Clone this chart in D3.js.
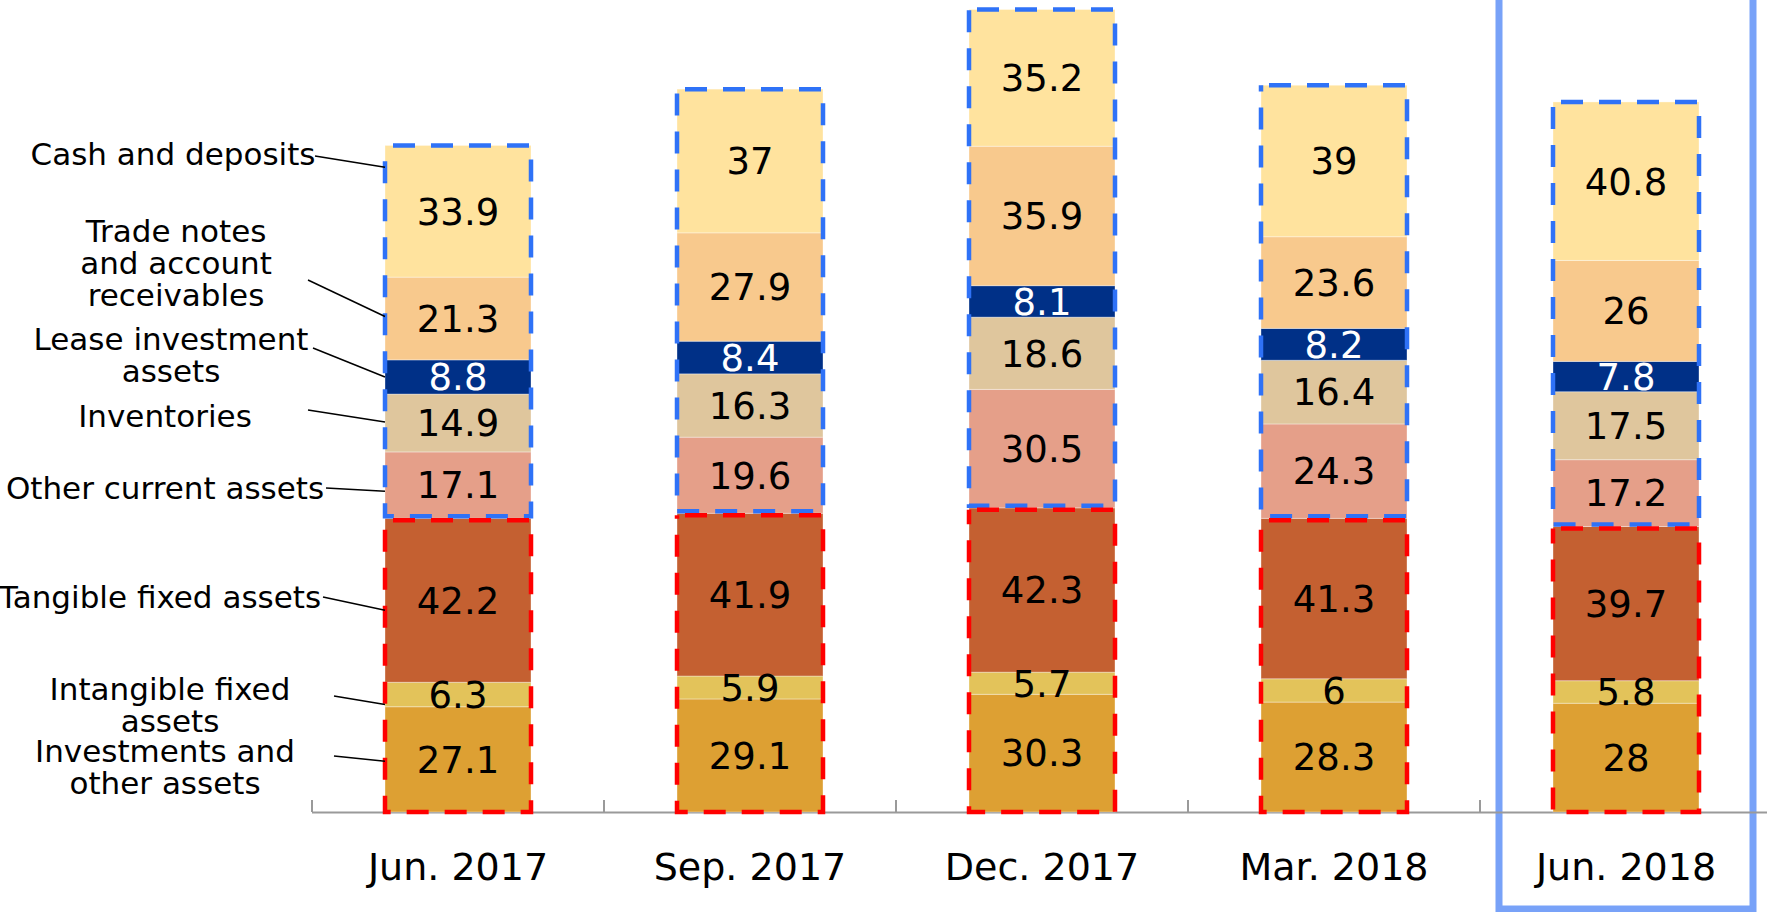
<!DOCTYPE html>
<html>
<head>
<meta charset="utf-8">
<script src="https://cdn.jsdelivr.net/npm/d3@7"></script>
<style>
  body { margin: 0; background: #fff; }
  svg { display: block; font-family: "DejaVu Sans", Verdana, sans-serif; }
</style>
</head>
<body>
<div class="canvas"></div>
<script>
// chart data
const categories = ['Jun. 2017', 'Sep. 2017', 'Dec. 2017', 'Mar. 2018', 'Jun. 2018'];
const cash = [33.9, 37, 35.2, 39, 40.8];
const tradeNotes = [21.3, 27.9, 35.9, 23.6, 26];
const lease = [8.8, 8.4, 8.1, 8.2, 7.8];
const inventories = [14.9, 16.3, 18.6, 16.4, 17.5];
const otherCurrent = [17.1, 19.6, 30.5, 24.3, 17.2];
const tangible = [42.2, 41.9, 42.3, 41.3, 39.7];
const intangible = [6.3, 5.9, 5.7, 6, 5.8];
const investments = [27.1, 29.1, 30.3, 28.3, 28];

// series, bottom to top
const seriesNames = [
  'Investments and other assets', 'Intangible fixed assets', 'Tangible fixed assets',
  'Other current assets', 'Inventories', 'Lease investment assets',
  'Trade notes and account receivables', 'Cash and deposits'
];
const seriesValues = [investments, intangible, tangible, otherCurrent, inventories, lease, tradeNotes, cash];
const seriesColors = ['#DDA033', '#E3C35A', '#C46031', '#E59F89', '#DFC69D', '#003087', '#F8C98D', '#FFE39E'];

const width = 1767;
const height = 912;
const baseY = 812;

const svg = d3.select('.canvas')
  .append('svg')
  .attr('width', width)
  .attr('height', height);

// build rows for the stack
const rows = categories.map((c, i) => {
  const row = { cat: c };
  seriesNames.forEach((s, j) => { row[s] = seriesValues[j][i]; });
  return row;
});
const stacked = d3.stack().keys(seriesNames)(rows);
const totals = rows.map(r => d3.sum(seriesNames, s => r[s]));

const x = d3.scaleBand()
  .domain(categories)
  .range([312, 1772])
  .paddingInner(0.5)
  .paddingOuter(0.25);

const y = d3.scaleLinear()
  .domain([0, d3.max(totals)])
  .range([baseY, 9.5]);

const bw = x.bandwidth();

// highlight box round the last period
const lastCx = x(categories[4]) + bw / 2;
svg.append('rect')
  .attr('x', lastCx - 127)
  .attr('y', -10)
  .attr('width', 254)
  .attr('height', 919)
  .attr('fill', 'none')
  .attr('stroke', '#78A2F8')
  .attr('stroke-width', 7);

// axis line and ticks between categories
svg.append('line')
  .attr('x1', 312).attr('x2', width)
  .attr('y1', baseY + 0.5).attr('y2', baseY + 0.5)
  .attr('stroke', '#9a9a9a')
  .attr('stroke-width', 2);

const boundaries = categories.map(c => x(c) - x.step() * 0.25);
svg.selectAll('.tick')
  .data(boundaries)
  .enter().append('line')
  .attr('x1', d => d).attr('x2', d => d)
  .attr('y1', baseY - 12).attr('y2', baseY)
  .attr('stroke', '#9a9a9a')
  .attr('stroke-width', 2);

// stacked bars
const layers = svg.selectAll('.layer')
  .data(stacked)
  .enter().append('g')
  .attr('fill', (d, i) => seriesColors[i]);

layers.selectAll('rect')
  .data(d => d)
  .enter().append('rect')
  .attr('x', d => x(d.data.cat))
  .attr('y', d => y(d[1]))
  .attr('width', bw)
  .attr('height', d => y(d[0]) - y(d[1]))
  .attr('stroke', '#fff')
  .attr('stroke-opacity', 0.35)
  .attr('stroke-width', 1);

// value labels
const valFont = 37;
stacked.forEach((layer, i) => {
  svg.append('g').selectAll('text')
    .data(layer)
    .enter().append('text')
    .attr('x', d => x(d.data.cat) + bw / 2)
    .attr('y', d => (y(d[0]) + y(d[1])) / 2 + valFont * 0.36)
    .attr('text-anchor', 'middle')
    .attr('font-size', valFont)
    .attr('fill', seriesNames[i] === 'Lease investment assets' ? '#fff' : '#000')
    .text(d => d.data[seriesNames[i]]);
});

// dashed outlines: current assets (blue) and fixed assets (red)
const fixedTop = stacked[2];
svg.selectAll('.cur')
  .data(categories)
  .enter().append('rect')
  .attr('x', c => x(c))
  .attr('y', (c, i) => y(totals[i]))
  .attr('width', bw)
  .attr('height', (c, i) => y(fixedTop[i][1]) - y(totals[i]) - 2)
  .attr('fill', 'none')
  .attr('stroke', '#2F72F7')
  .attr('stroke-width', 4.5)
  .attr('stroke-dasharray', '22 16')
  .attr('stroke-dashoffset', -8);

svg.selectAll('.fix')
  .data(categories)
  .enter().append('rect')
  .attr('x', c => x(c))
  .attr('y', (c, i) => y(fixedTop[i][1]) + 2)
  .attr('width', bw)
  .attr('height', (c, i) => baseY - y(fixedTop[i][1]) - 2)
  .attr('fill', 'none')
  .attr('stroke', '#FF0000')
  .attr('stroke-width', 4.5)
  .attr('stroke-dasharray', '22 16')
  .attr('stroke-dashoffset', -8);

// category labels
svg.selectAll('.cat')
  .data(categories)
  .enter().append('text')
  .attr('x', c => x(c) + bw / 2)
  .attr('y', 880)
  .attr('text-anchor', 'middle')
  .attr('font-size', 38)
  .attr('fill', '#000')
  .text(c => c);

// series labels on the left with leader lines to the first bar
const labelLines = [
  ['Investments and', 'other assets'],
  ['Intangible fixed', 'assets'],
  ['Tangible fixed assets'],
  ['Other current assets'],
  ['Inventories'],
  ['Lease investment', 'assets'],
  ['Trade notes', 'and account', 'receivables'],
  ['Cash and deposits']
];
const labelPos = [
  { cx: 165, y: 762, lx: 334, ly: 756, dy: 2 },
  { cx: 170, y: 700, lx: 334, ly: 696, dy: 10 },
  { cx: 160, y: 608, lx: 323, ly: 597, dy: 10 },
  { cx: 165, y: 499, lx: 326, ly: 488, dy: 6 },
  { cx: 165, y: 427, lx: 308, ly: 410, dy: -1 },
  { cx: 171, y: 350, lx: 313, ly: 348, dy: 0 },
  { cx: 176, y: 242, lx: 308, ly: 280, dy: -2 },
  { cx: 173, y: 165, lx: 315, ly: 156, dy: -44 }
];
const barLeft = x(categories[0]);

labelLines.forEach((lines, i) => {
  const p = labelPos[i];
  const seg = stacked[i][0];
  svg.append('line')
    .attr('x1', p.lx).attr('y1', p.ly)
    .attr('x2', barLeft).attr('y2', (y(seg[0]) + y(seg[1])) / 2 + p.dy)
    .attr('stroke', '#000')
    .attr('stroke-width', 1.5);

  const t = svg.append('text')
    .attr('text-anchor', 'middle')
    .attr('font-size', 31)
    .attr('fill', '#000');
  lines.forEach((ln, k) => {
    t.append('tspan')
      .attr('x', p.cx)
      .attr('y', p.y + k * 32)
      .text(ln);
  });
});
</script>
</body>
</html>
